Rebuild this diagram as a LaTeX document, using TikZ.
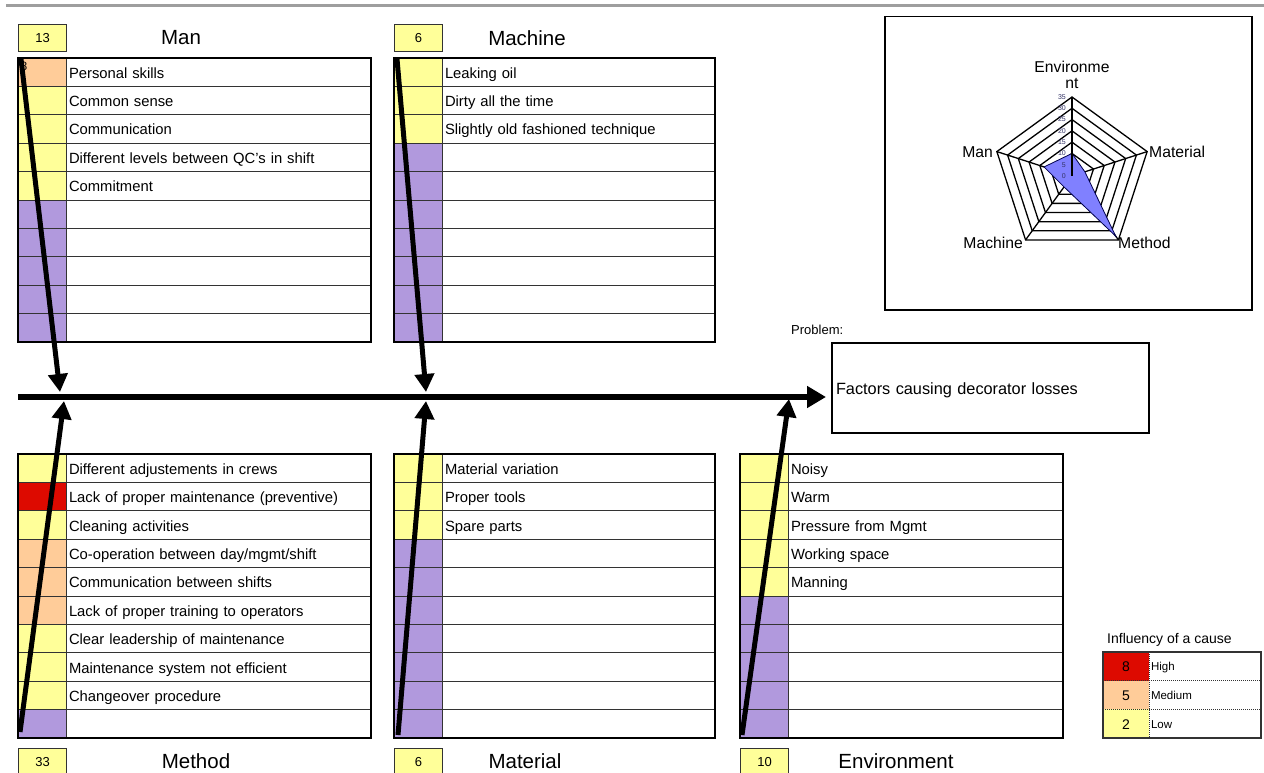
\documentclass[tikz,border=0pt]{standalone}
\usepackage{fontspec}
\setmainfont{Liberation Sans}
\usetikzlibrary{arrows.meta}
\definecolor{Y}{HTML}{FFFF99}
\definecolor{O}{HTML}{FFCC99}
\definecolor{R}{HTML}{DD0A00}
\definecolor{P}{HTML}{B199DD}
\definecolor{rowline}{HTML}{333333}
\definecolor{radarfill}{HTML}{8080FF}
\definecolor{ticktext}{HTML}{333366}
\newcommand\fs[1]{\fontsize{#1}{#1}\selectfont}
\tikzset{
  colcell/.style={anchor=north west, minimum height=28.4pt, inner sep=0pt, outer sep=0pt, draw=rowline, line width=1pt},
  txtcell/.style={anchor=north west, minimum height=28.4pt, inner xsep=3pt, inner ysep=0pt, outer sep=0pt, draw=rowline, line width=1pt, align=left, font=\fs{14.8}, text height=12pt, text depth=0pt},
  tabframe/.style={draw=black, line width=2.5pt},
  countbox/.style={anchor=north west, minimum width=48pt, minimum height=27pt, inner sep=0pt, fill=Y, draw=rowline, line width=1.2pt, font=\fs{13}},
  cattitle/.style={font=\fs{20.5}},
  bone/.style={line width=5pt, -{Triangle[length=18pt,width=19pt]}},
  spine/.style={line width=6pt, -{Triangle[length=19pt,width=21pt]}},
  radarlab/.style={font=\fs{15.7}, inner sep=0pt},
  ticklab/.style={font=\fs{7}, text=ticktext, inner sep=0pt, anchor=east},
}
\newcommand\causetab[6]{%
  \foreach [count=\i] \c/\t in {#6} {
    \pgfmathsetmacro\yy{#5+(\i-1)*28.4}
    \pgfmathsetmacro\cw{#3-#2}
    \pgfmathsetmacro\tw{#4-#3-6}
    \node[colcell, fill=\c, minimum width=\cw pt] (#1c\i) at (#2,\yy) {};
    \node[txtcell, text width=\tw pt] (#1t\i) at (#3,\yy) {\t};
  }
  \draw[tabframe] (#1c1.north west) rectangle (#1t10.south east);
}
\begin{document}
\begin{tikzpicture}[x=1pt, y=-1pt]
\useasboundingbox (0,0) rectangle (1264,773);
\fill[white] (0,0) rectangle (1264,773);
% top rule
\draw[line width=3pt, color=black!38] (6,6) -- (1264,6);

% ---------- Man ----------
\node[countbox] (manN) at (18,24) {13};
\node[cattitle] (manTitle) at (181,38) {Man};
\causetab{man}{18}{66}{371}{58}{O/Personal skills, Y/Common sense, Y/Communication, Y/{Different levels between QC's in shift}, Y/Commitment, P/{}, P/{}, P/{}, P/{}, P/{}}
\node[font=\fs{12}, inner sep=0pt] (man8) at (24,66) {8};

% ---------- Machine ----------
\node[countbox] (macN) at (394,24) {6};
\node[cattitle] (macTitle) at (527,38) {Machine};
\causetab{mac}{394}{442}{715}{58}{Y/Leaking oil, Y/Dirty all the time, Y/Slightly old fashioned technique, P/{}, P/{}, P/{}, P/{}, P/{}, P/{}, P/{}}

% ---------- Method ----------
\causetab{met}{18}{66}{371}{454}{Y/Different adjustements in crews, R/Lack of proper maintenance (preventive), Y/Cleaning activities, O/{Co-operation between day/mgmt/shift}, O/Communication between shifts, O/Lack of proper training to operators, Y/Clear leadership of maintenance, Y/Maintenance system not efficient, Y/Changeover procedure, P/{}}
\node[countbox] (metN) at (18,748) {33};
\node[cattitle] (metTitle) at (196,761) {Method};

% ---------- Material ----------
\causetab{mat}{394}{442}{715}{454}{Y/Material variation, Y/Proper tools, Y/Spare parts, P/{}, P/{}, P/{}, P/{}, P/{}, P/{}, P/{}}
\node[countbox] (matN) at (394,748) {6};
\node[cattitle] (matTitle) at (525,761) {Material};

% ---------- Environment ----------
\causetab{env}{740}{788}{1063}{454}{Y/Noisy, Y/Warm, Y/Pressure from Mgmt, Y/Working space, Y/Manning, P/{}, P/{}, P/{}, P/{}, P/{}}
\node[countbox] (envN) at (740,748) {10};
\node[cattitle] (envTitle) at (896,761) {Environment};

% ---------- Problem ----------
\node[font=\fs{13}, anchor=west, inner sep=0pt] (probLab) at (791,330) {Problem:};
\node[draw, line width=2pt, anchor=north west, minimum height=90pt, text width=309pt, inner xsep=4pt, align=left, font=\fs{16.3}, text height=13pt, text depth=0pt] (prob) at (831,342) {Factors causing decorator losses};

% ---------- fishbone ----------
\coordinate (spS) at (18,397);
\coordinate (manS) at (21,59);   \coordinate (manT) at (60,392);
\coordinate (macS) at (397,59);  \coordinate (macT) at (426,392);
\coordinate (metS) at (20,732);  \coordinate (metT) at (64,401);
\coordinate (matS) at (398,735); \coordinate (matT) at (426,401);
\coordinate (envS) at (742,735); \coordinate (envT) at (789,399);
\draw[spine, shorten >=5pt] (spS) -- (spS -| prob.west);
\draw[bone] (manS) -- (manT);
\draw[bone] (macS) -- (macT);
\draw[bone] (metS) -- (metT);
\draw[bone] (matS) -- (matT);
\draw[bone] (envS) -- (envT);

% ---------- radar chart ----------
\node[draw, line width=1.5pt, anchor=north west, minimum width=367pt, minimum height=293pt, inner sep=0pt] (radarbox) at (884,16) {};
\begin{scope}[shift={(1072,176)}]
  \foreach \k in {1,...,7} {
    \pgfmathsetmacro\rr{\k*79/7}
    \draw[line width=1.3pt] (-90:\rr) -- (-18:\rr) -- (54:\rr) -- (126:\rr) -- (198:\rr) -- cycle;
  }
  \foreach \a in {-90,-18,54,126,198} \draw[line width=1.3pt] (0,0) -- (\a:79);
  \filldraw[fill=radarfill, draw=black!70!blue, line width=0.8pt]
    (-90:{10*79/35}) -- (-18:{6*79/35}) -- (54:{33*79/35}) -- (126:{6*79/35}) -- (198:{13*79/35}) -- cycle;
  \draw[line width=1.3pt] (0,0) -- (-90:79);
  \foreach \v [count=\j from 0] in {0,5,10,15,20,25,30,35}
    \node[ticklab] (tick\j) at (-6,{-\j*79/7}) {\v};
\end{scope}
\node[radarlab, align=center] (labEnv) at (1072,75) {Environme\\[1pt]nt};
\node[radarlab, anchor=east] (labMan) at (993,152) {Man};
\node[radarlab, anchor=west] (labMat) at (1149,152) {Material};
\node[radarlab, anchor=east] (labMac) at (1023,243) {Machine};
\node[radarlab, anchor=west] (labMet) at (1118,243) {Method};

% ---------- legend ----------
\node[font=\fs{14}, anchor=west, inner sep=0pt] (lgTitle) at (1107,640) {Influency of a cause};
\foreach [count=\i] \c/\n/\t in {R/8/High, O/5/Medium, Y/2/Low} {
  \pgfmathsetmacro\ly{652+(\i-1)*28.7}
  \node[anchor=north west, fill=\c, minimum width=46pt, minimum height=28.7pt, inner sep=0pt, outer sep=0pt, font=\fs{14}, text height=11pt, text depth=0pt] (lgc\i) at (1103,\ly) {\n};
  \node[anchor=north west, minimum height=28.7pt, text width=108pt, inner xsep=2pt, inner ysep=0pt, outer sep=0pt, align=left, font=\fs{11.5}, text height=9pt, text depth=0pt] (lgt\i) at (1149,\ly) {\t};
}
\draw[rowline, line width=1pt, densely dotted] (lgc1.south west) -- (lgt1.south east);
\draw[rowline, line width=1pt, densely dotted] (lgc2.south west) -- (lgt2.south east);
\draw[rowline, line width=1pt, densely dotted] (lgc1.north east) -- (lgc3.south east);
\draw[rowline, line width=1.5pt] (lgc1.north west) rectangle (lgt3.south east);
\end{tikzpicture}
\end{document}
